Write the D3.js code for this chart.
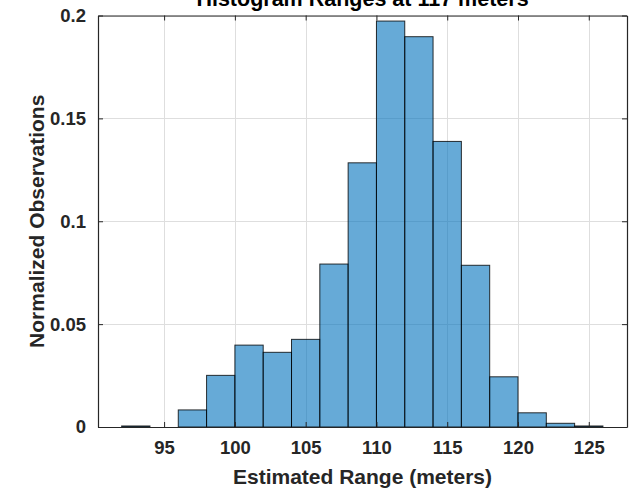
<!DOCTYPE html>
<html>
<head>
<meta charset="utf-8">
<script src="https://cdn.jsdelivr.net/npm/d3@7"></script>
<style>
  html, body { margin: 0; padding: 0; background: #fff; }
  svg { display: block; font-family: "Liberation Sans", Arial, Helvetica, sans-serif; }
</style>
</head>
<body>
<svg id="chart" width="641" height="488"></svg>
<script>
// Histogram bin edges (2 m wide) and the normalized count in each bin
const binStarts = [92, 94, 96, 98, 100, 102, 104, 106, 108, 110, 112, 114, 116, 118, 120, 122, 124];
const binWidth = 2;
const binValues = [0.0005, 0, 0.0083, 0.0251, 0.0398, 0.0363, 0.0426, 0.0792, 0.1284, 0.1973, 0.1897, 0.1388, 0.0786, 0.0244, 0.0069, 0.0018, 0.0005];
const xTicks = [95, 100, 105, 110, 115, 120, 125];
const yTicks = [0, 0.05, 0.1, 0.15, 0.2];
const xDomain = [90.33, 127.7];
const yDomain = [0, 0.2];
const titleText = "Histogram Ranges at 117 meters";
const xLabelText = "Estimated Range (meters)";
const yLabelText = "Normalized Observations";

const svg = d3.select("#chart");
const margin = { left: 98, right: 14, top: 15.5, bottom: 61 };
const W = 641, H = 488;
const x = d3.scaleLinear().domain(xDomain).range([margin.left, W - margin.right]);
const y = d3.scaleLinear().domain(yDomain).range([H - margin.bottom, margin.top]);

const axisColor = "#262626";

// grid
const grid = svg.append("g");
grid.selectAll("line.vx").data(xTicks).join("line")
  .attr("x1", d => Math.round(x(d)) + 0.5).attr("x2", d => Math.round(x(d)) + 0.5)
  .attr("y1", y.range()[1]).attr("y2", y.range()[0])
  .attr("stroke", "#dedede").attr("stroke-width", 1);
grid.selectAll("line.hy").data(yTicks).join("line")
  .attr("y1", d => Math.round(y(d)) + 0.5).attr("y2", d => Math.round(y(d)) + 0.5)
  .attr("x1", x.range()[0]).attr("x2", x.range()[1])
  .attr("stroke", "#dedede").attr("stroke-width", 1);

// bars
svg.append("g").selectAll("rect").data(binStarts.map((s, i) => ({ s, v: binValues[i] })).filter(d => d.v > 0))
  .join("rect")
  .attr("x", d => x(d.s))
  .attr("width", d => x(d.s + binWidth) - x(d.s))
  .attr("y", d => y(d.v))
  .attr("height", d => y(0) - y(d.v))
  .attr("fill", "#0072BD").attr("fill-opacity", 0.6)
  .attr("stroke", "#000").attr("stroke-opacity", 0.8).attr("stroke-width", 1);

// axes (box with inward ticks)
const xAxisB = d3.axisBottom(x).tickValues(xTicks).tickSizeInner(-5).tickSizeOuter(0).tickPadding(14).tickFormat(d3.format("d"));
const xAxisT = d3.axisTop(x).tickValues(xTicks).tickSizeInner(-5).tickSizeOuter(0).tickFormat("");
const yAxisL = d3.axisLeft(y).tickValues(yTicks).tickSizeInner(-5).tickSizeOuter(0).tickPadding(12).tickFormat(d => d === 0 ? "0" : String(+d.toFixed(2)));
const yAxisR = d3.axisRight(y).tickValues(yTicks).tickSizeInner(-5).tickSizeOuter(0).tickFormat("");

function style(g) {
  g.selectAll(".domain").attr("stroke", axisColor).attr("stroke-width", 1.2);
  g.selectAll(".tick line").attr("stroke", axisColor);
  g.selectAll(".tick text").attr("fill", axisColor).attr("font-size", 18.5).attr("font-weight", "bold")
    .attr("font-family", "'Liberation Sans', Arial, sans-serif");
}
svg.append("g").attr("transform", `translate(0,${y(0)})`).call(xAxisB).call(style);
svg.append("g").attr("transform", `translate(0,${y(0.2)})`).call(xAxisT).call(style);
svg.append("g").attr("transform", `translate(${x(xDomain[0])},0)`).call(yAxisL).call(style);
svg.append("g").attr("transform", `translate(${x(xDomain[1])},0)`).call(yAxisR).call(style);

// labels
const cx = (x.range()[0] + x.range()[1]) / 2;
svg.append("text").attr("x", cx).attr("y", 6).attr("text-anchor", "middle")
  .attr("font-size", 21.5).attr("font-weight", "bold").attr("fill", "#000").text(titleText);
svg.append("text").attr("x", cx).attr("y", 484).attr("text-anchor", "middle")
  .attr("font-size", 21).attr("font-weight", "bold").attr("fill", axisColor).text(xLabelText);
svg.append("text").attr("transform", `translate(44,${(y.range()[0] + y.range()[1]) / 2}) rotate(-90)`)
  .attr("text-anchor", "middle")
  .attr("font-size", 21).attr("font-weight", "bold").attr("fill", axisColor).text(yLabelText);
</script>
</body>
</html>
